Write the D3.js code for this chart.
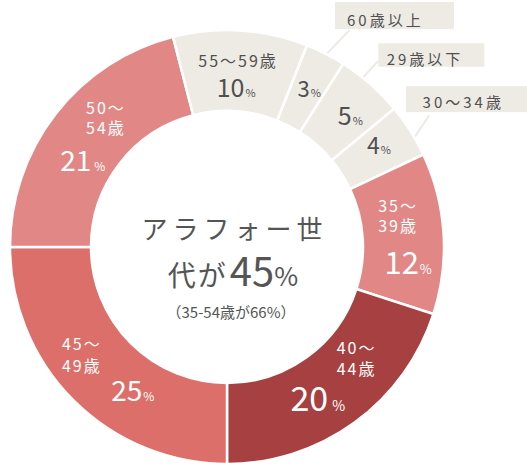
<!DOCTYPE html>
<html>
<head>
<meta charset="utf-8">
<script src="https://cdn.jsdelivr.net/npm/d3@7"></script>
<style>
  html, body { margin: 0; padding: 0; background: #ffffff; }
  svg { display: block; }
  text { font-family: "Noto Sans CJK JP", "Noto Sans", sans-serif; }
</style>
</head>
<body>
<svg id="chart" width="527" height="466"></svg>
<script>
// ---- data ----
const categories = ["60歳以上", "29歳以下", "30～34歳", "35～39歳", "40～44歳", "45～49歳", "50～54歳", "55～59歳"];
const values = [3, 5, 4, 12, 20, 25, 21, 10];
const centerTitle = ["アラフォー世", "代が", "45", "%"];
const centerNote = "（35-54歳が66%）";

// ---- style / layout ----
const cx = 227, cy = 247;
const rOuter = 217, rInner = 136;
const colors = ["#eeebe5", "#eeebe5", "#eeebe5", "#e18887", "#a74041", "#dd6f6b", "#e18887", "#eeebe5"];
const darkText = "#505050";
const valueFont = [22, 25, 23, 31, 34, 28, 28, 25];
const pctFont = [11, 11, 11, 13, 14, 12, 12, 11];
const pctGap = [1, 1, 1, 1, 4, 1, 3, 1];
// label layout relative to slice centroid
const labelLayout = [
  { v: [2, 7.3] },
  { v: [6.6, 10.4] },
  { v: [3, 1.3] },
  { name: [-25, -31, -11], v: [5, 38.3] },
  { name: [6, -42.5, -22], v: [-13, 21] },
  { name: [-40.3, -28.7, -7], v: [30.5, 28.7] },
  { name: [-1.5, -31.7, -11.7], v: [-4.8, 31.7] },
  { nameMid: [-1, -11], v: [-2, 25.7] }
];
// callouts relative to outer-arc point at slice mid-angle
const callouts = [
  { i: 0, start: [-8, 10], end: [24, -23.7], box: [9.5, -51.6, 119, 27], text: [12, 17] },
  { i: 1, start: [-15.5, 1.8], end: [7.8, -23.2], box: [7.8, -40.9, 106, 23.4], text: [8.4, 15] },
  { i: 2, start: [-4.3, 19.4], end: [19, -15.6], box: [-4.3, -44.6, 121, 26], text: [16.7, 15.7] }
];

const svg = d3.select("#chart");
const g = svg.append("g").attr("transform", `translate(${cx},${cy})`);

const offset = 0.06 * 2 * Math.PI;
const pie = d3.pie().sort(null).value(d => d).startAngle(offset).endAngle(offset + 2 * Math.PI);
const arcs = pie(values);
const arc = d3.arc().innerRadius(rInner).outerRadius(rOuter);
const mid = (rInner + rOuter) / 2;
const arcMid = d3.arc().innerRadius(mid).outerRadius(mid);

// callout lines (under arcs)
const cg = g.append("g");
callouts.forEach(c => {
  const a = arcs[c.i];
  const ma = (a.startAngle + a.endAngle) / 2;
  const p = [rOuter * Math.sin(ma), -rOuter * Math.cos(ma)];
  cg.append("line")
    .attr("x1", p[0] + c.start[0]).attr("y1", p[1] + c.start[1])
    .attr("x2", p[0] + c.end[0]).attr("y2", p[1] + c.end[1])
    .attr("stroke", "#eeebe5").attr("stroke-width", 2);
});

g.selectAll("path.slice").data(arcs).enter().append("path")
  .attr("class", "slice")
  .attr("d", arc)
  .attr("fill", (d, i) => colors[i])
  .attr("stroke", "#ffffff")
  .attr("stroke-width", 2.5);

callouts.forEach(c => {
  const a = arcs[c.i];
  const ma = (a.startAngle + a.endAngle) / 2;
  const p = [rOuter * Math.sin(ma), -rOuter * Math.cos(ma)];
  const bx = p[0] + c.box[0], by = p[1] + c.box[1];
  g.append("rect").attr("x", bx).attr("y", by).attr("width", c.box[2]).attr("height", c.box[3])
    .attr("fill", "#eeebe5");
  g.append("text").attr("x", bx + c.text[0]).attr("y", by + c.text[1])
    .attr("dominant-baseline", "central")
    .attr("font-size", 15).attr("letter-spacing", 3)
    .attr("fill", darkText).text(categories[c.i]);
});

// slice labels
arcs.forEach((a, i) => {
  const [mx, my] = arcMid.centroid(a);
  const L = labelLayout[i];
  const fill = colors[i] === "#eeebe5" ? darkText : "#ffffff";
  const name = categories[i];
  if (L.name) {
    const k = name.indexOf("～") + 1;
    const lines = [name.slice(0, k), name.slice(k)];
    const nt = g.append("text")
      .attr("dominant-baseline", "central")
      .attr("font-size", 16).attr("letter-spacing", 2)
      .attr("fill", fill);
    lines.forEach((ln, j) => {
      nt.append("tspan").attr("x", mx + L.name[0]).attr("y", my + L.name[1 + j]).text(ln);
    });
  }
  if (L.nameMid) {
    g.append("text").attr("x", mx + L.nameMid[0] + 1).attr("y", my + L.nameMid[1])
      .attr("dominant-baseline", "central").attr("text-anchor", "middle")
      .attr("font-size", 16).attr("letter-spacing", 2)
      .attr("fill", fill).text(name);
  }
  const t = g.append("text").attr("x", mx + L.v[0]).attr("y", my + L.v[1])
    .attr("text-anchor", "middle").attr("fill", fill);
  t.append("tspan").attr("font-size", valueFont[i]).text(values[i]);
  t.append("tspan").attr("font-size", pctFont[i]).attr("dx", pctGap[i]).text("%");
});

// center text (one text element, two lines)
const ct = g.append("text").attr("text-anchor", "middle").attr("fill", "#555555");
ct.append("tspan").attr("x", 7.5).attr("y", -8)
  .attr("font-size", 26).attr("letter-spacing", 5)
  .text(centerTitle[0]);
ct.append("tspan").attr("x", 6).attr("y", 39)
  .attr("font-size", 28).attr("letter-spacing", 2).text(centerTitle[1]);
ct.append("tspan").attr("font-size", 40).attr("dx", 2).attr("letter-spacing", 0).text(centerTitle[2]);
ct.append("tspan").attr("font-size", 26).attr("letter-spacing", 0).text(centerTitle[3]);
g.append("text").attr("x", 4).attr("y", 64)
  .attr("text-anchor", "middle").attr("dominant-baseline", "central")
  .attr("font-size", 15).attr("fill", "#555555")
  .text(centerNote);
</script>
</body>
</html>
